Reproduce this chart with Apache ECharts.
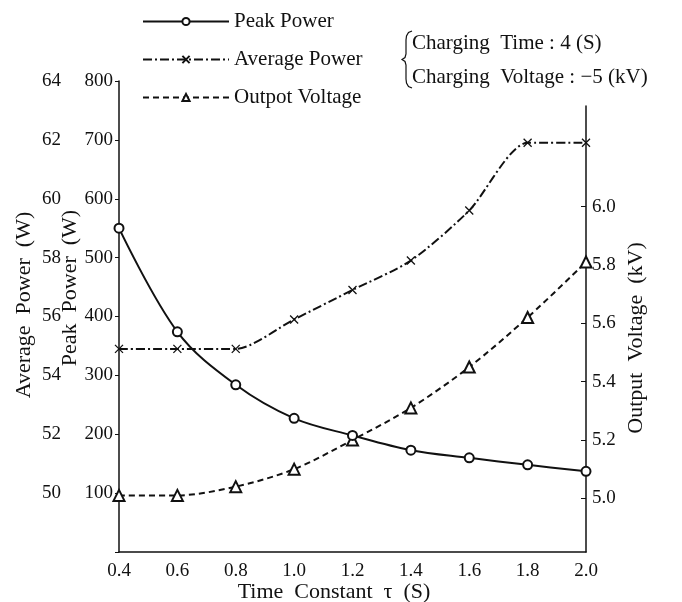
<!DOCTYPE html>
<html>
<head>
<meta charset="utf-8">
<script src="https://cdn.jsdelivr.net/npm/echarts@6/dist/echarts.min.js"></script>
<style>
  html, body { margin: 0; padding: 0; background: #fff; }
  #chart { width: 682px; height: 602px; }
</style>
</head>
<body>
<div id="chart"></div>
<script>
// Time constant τ (S) on the horizontal axis
const timeConstant = [0.4, 0.6, 0.8, 1.0, 1.2, 1.4, 1.6, 1.8, 2.0];
// Peak power (W), left inner axis
const peakPower = [550, 374, 284, 227, 198, 173, 160, 148, 137];
// Average power (W), left outer axis
const averagePower = [54.9, 54.9, 54.9, 55.9, 56.9, 57.9, 59.6, 61.9, 61.9];
// Output voltage (kV), right axis
const outputVoltage = [5.01, 5.01, 5.04, 5.10, 5.20, 5.31, 5.45, 5.62, 5.81];
// Labelled ticks of the voltage axis
const voltageTicks = [5.0, 5.2, 5.4, 5.6, 5.8, 6.0];

const FONT = 'Liberation Serif';
const INK = '#111';

const pairs = (xs, ys) => xs.map((x, i) => [x, ys[i]]);

const crossSymbol = 'path://M0,0L10,10M10,0L0,10';

const chart = echarts.init(document.getElementById('chart'), null, { renderer: 'canvas' });

chart.setOption({
  backgroundColor: '#fff',
  animation: false,
  textStyle: { fontFamily: FONT, color: INK },
  legend: {
    orient: 'vertical',
    left: 137,
    top: 6,
    itemWidth: 86,
    itemHeight: 9,
    itemGap: 17,
    textStyle: { fontFamily: FONT, fontSize: 21, color: INK, lineHeight: 20 },
    data: ['Peak Power', 'Average Power', 'Outpot Voltage']
  },
  grid: [
    { left: 119, right: 96, top: 81, bottom: 50 },
    { left: 119, right: 96, top: 106, bottom: 50 }
  ],
  xAxis: [
    {
      type: 'value', gridIndex: 0,
      min: 0.4, max: 2.0, interval: 0.2,
      axisLine: { show: true, lineStyle: { color: INK, width: 1.5 } },
      axisTick: { show: false },
      splitLine: { show: false },
      axisLabel: {
        margin: 10, fontFamily: FONT, fontSize: 19, color: INK,
        formatter: v => v.toFixed(1)
      }
    },
    {
      type: 'value', gridIndex: 1,
      min: 0.4, max: 2.0, show: false
    }
  ],
  yAxis: [
    {
      type: 'value', gridIndex: 0, position: 'left',
      min: 0, max: 800, interval: 100,
      axisLine: { show: true, lineStyle: { color: INK, width: 1.5 } },
      axisTick: { show: true, inside: false, length: 4, lineStyle: { color: INK, width: 1 } },
      splitLine: { show: false },
      axisLabel: {
        margin: 6, fontFamily: FONT, fontSize: 19, color: INK,
        formatter: v => (v === 0 ? '' : String(v))
      }
    },
    {
      type: 'value', gridIndex: 0, position: 'left', offset: 52,
      min: 48, max: 64, interval: 2,
      axisLine: { show: false },
      axisTick: { show: false },
      splitLine: { show: false },
      axisLabel: {
        margin: 6, fontFamily: FONT, fontSize: 19, color: INK,
        formatter: v => (v === 48 ? '' : String(v))
      }
    },
    {
      type: 'value', gridIndex: 1, position: 'right',
      min: 4.816, max: 6.345,
      axisLine: { show: true, lineStyle: { color: INK, width: 1.5 } },
      axisTick: { show: true, inside: true, length: 5, customValues: voltageTicks, lineStyle: { color: INK, width: 1 } },
      splitLine: { show: false },
      axisLabel: {
        margin: 6, fontFamily: FONT, fontSize: 19, color: INK,
        customValues: voltageTicks,
        formatter: v => v.toFixed(1)
      }
    }
  ],
  series: [
    {
      name: 'Peak Power', type: 'line',
      xAxisIndex: 0, yAxisIndex: 0,
      data: pairs(timeConstant, peakPower),
      smooth: 0.35,
      symbol: 'emptyCircle', symbolSize: 9,
      lineStyle: { color: INK, width: 2, type: 'solid' },
      itemStyle: { color: INK, borderColor: INK, borderWidth: 1.2 },
      z: 3
    },
    {
      name: 'Average Power', type: 'line',
      xAxisIndex: 0, yAxisIndex: 1,
      data: pairs(timeConstant, averagePower),
      smooth: 0.25,
      symbol: crossSymbol, symbolSize: 8,
      lineStyle: { color: INK, width: 2, type: [9, 3, 2, 3] },
      itemStyle: { color: INK, borderColor: INK, borderWidth: 1.3 },
      z: 2
    },
    {
      name: 'Outpot Voltage', type: 'line',
      xAxisIndex: 1, yAxisIndex: 2,
      data: pairs(timeConstant, outputVoltage),
      smooth: 0.3,
      symbol: 'emptyTriangle', symbolSize: 11,
      lineStyle: { color: INK, width: 2, type: [6, 4] },
      itemStyle: { color: INK, borderColor: INK, borderWidth: 1.2 },
      z: 2
    }
  ],
  graphic: [
    // vertical axis titles
    {
      type: 'text', x: 24, y: 305, rotation: Math.PI / 2,
      style: { text: 'Average  Power  (W)', font: '22px "Liberation Serif"', fill: INK, align: 'center', verticalAlign: 'middle' }
    },
    {
      type: 'text', x: 70, y: 288, rotation: Math.PI / 2,
      style: { text: 'Peak  Power  (W)', font: '22px "Liberation Serif"', fill: INK, align: 'center', verticalAlign: 'middle' }
    },
    {
      type: 'text', x: 636, y: 338, rotation: Math.PI / 2,
      style: { text: 'Output  Voltage  (kV)', font: '22px "Liberation Serif"', fill: INK, align: 'center', verticalAlign: 'middle' }
    },
    // horizontal axis title
    {
      type: 'text', x: 334, y: 592,
      style: { text: 'Time  Constant  τ  (S)', font: '22px "Liberation Serif"', fill: INK, align: 'center', verticalAlign: 'middle' }
    },
    // brace in front of the charging conditions note
    {
      type: 'polyline',
      shape: {
        points: [[412, 31], [408.5, 32.5], [406.5, 36], [406, 40], [406, 54], [405, 57.5], [402, 59.5],
                 [405, 61.5], [406, 65], [406, 79], [406.5, 83], [408.5, 86.5], [412, 88]]
      },
      style: { stroke: INK, lineWidth: 1.2, fill: null }
    },
    {
      type: 'text', x: 412, y: 43,
      style: { text: 'Charging  Time : 4 (S)', font: '21px "Liberation Serif"', fill: INK, align: 'left', verticalAlign: 'middle' }
    },
    {
      type: 'text', x: 412, y: 77,
      style: { text: 'Charging  Voltage : −5 (kV)', font: '21px "Liberation Serif"', fill: INK, align: 'left', verticalAlign: 'middle' }
    }
  ]
});
</script>
</body>
</html>
